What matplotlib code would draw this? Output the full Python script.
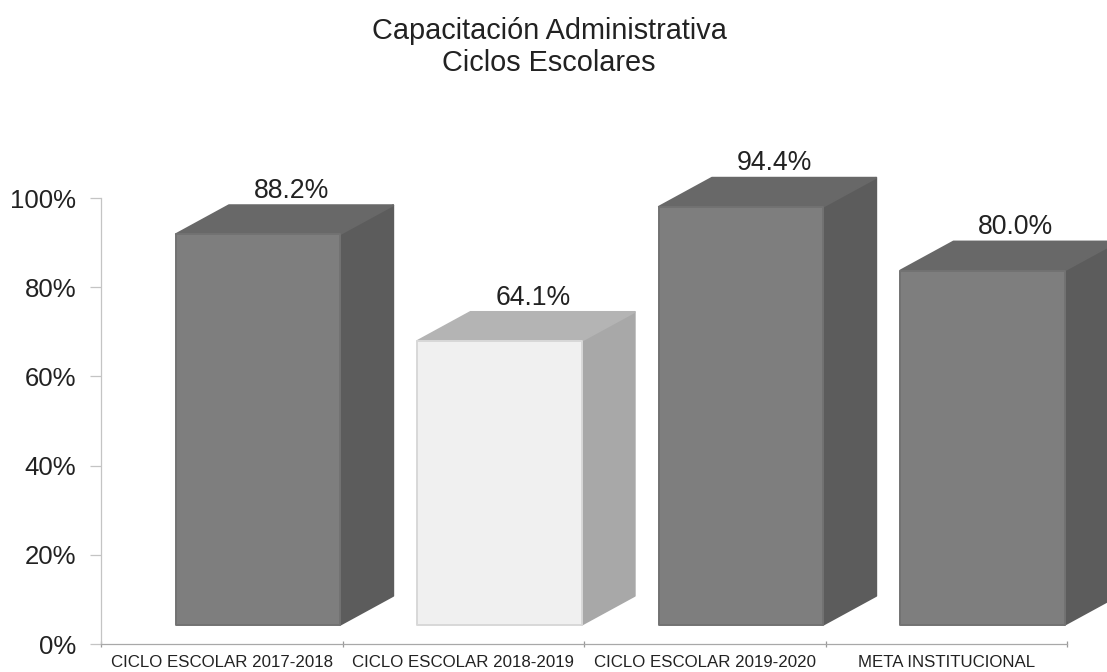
import matplotlib
matplotlib.use('Agg')
import matplotlib.pyplot as plt
from matplotlib.patches import Polygon

plt.rcParams['font.family'] = ['Liberation Sans', 'DejaVu Sans']

categories = ['CICLO ESCOLAR 2017-2018', 'CICLO ESCOLAR 2018-2019',
              'CICLO ESCOLAR 2019-2020', 'META INSTITUCIONAL']
values = [88.2, 64.1, 94.4, 80.0]
front_colors = ['#7e7e7e', '#f0f0f0', '#7e7e7e', '#7e7e7e']
top_colors = ['#686868', '#b4b4b4', '#686868', '#686868']
side_colors = ['#5c5c5c', '#a8a8a8', '#5c5c5c', '#5c5c5c']
edge_colors = ['#727272', '#d8d8d8', '#727272', '#727272']

# fake 3d box, everything in axis units
bar_left = 0.31
bar_width = 0.68
depth_x = 0.22
depth_y = 6.5
floor = 4.3
y_scale = 0.993

W, H = 1107, 672
fig = plt.figure(figsize=(W / 100, H / 100), dpi=100)
ax = fig.add_axes([101 / W, 1 - 644 / H, (1067 - 101) / W, (644 - 198) / H])
ax.set_xlim(0, 4)
ax.set_ylim(0, 100)


def draw_box(ax, x0, val, front, top, side, edge):
    x1 = x0 + bar_width
    y0 = floor
    y1 = floor + val * y_scale
    dx, dy = depth_x, depth_y
    faces = [
        ([(x1, y0), (x1 + dx, y0 + dy), (x1 + dx, y1 + dy), (x1, y1)], side, side),
        ([(x0, y1), (x1, y1), (x1 + dx, y1 + dy), (x0 + dx, y1 + dy)], top, top),
        ([(x0, y0), (x1, y0), (x1, y1), (x0, y1)], front, edge),
    ]
    for pts, col, ec in faces:
        ax.add_patch(Polygon(pts, closed=True, facecolor=col, edgecolor=ec,
                             lw=1.4, joinstyle='round', clip_on=False, zorder=3))


for i, val in enumerate(values):
    x0 = i + bar_left
    draw_box(ax, x0, val, front_colors[i], top_colors[i], side_colors[i], edge_colors[i])
    ax.annotate(f'{val:.1f}%', (x0 + (bar_width + depth_x) / 2, floor + val * y_scale + depth_y),
                xytext=(5, 1), textcoords='offset points', ha='center', va='bottom',
                fontsize=19.2, color='#222222', zorder=4, annotation_clip=False)

for s in ['top', 'right']:
    ax.spines[s].set_visible(False)
ax.spines['left'].set_color('#c4c4c4')
ax.spines['bottom'].set_color('#a8a8a8')
ax.spines['left'].set_linewidth(0.9)
ax.spines['bottom'].set_linewidth(0.9)

ax.set_yticks([0, 20, 40, 60, 80, 100])
ax.set_yticklabels(['0%', '20%', '40%', '60%', '80%', '100%'], fontsize=18.5, color='#222222')
ax.tick_params(axis='y', length=8, width=0.9, color='#c4c4c4', pad=10)

ax.set_xticks([0, 1, 2, 3, 4])
ax.set_xticklabels([])
ax.tick_params(axis='x', direction='inout', length=5, width=0.9, color='#999999')
for i, cat in enumerate(categories):
    ax.annotate(cat, (i + 0.5, 0), xytext=(0, -8), textcoords='offset points', ha='center', va='top',
                fontsize=12.2, color='#222222', annotation_clip=False)

fig.text(549 / W, 1 - 31 / H, 'Capacitación Administrativa', ha='center', va='center', fontsize=20.8, color='#222222')
fig.text(549 / W, 1 - 63 / H, 'Ciclos Escolares', ha='center', va='center', fontsize=20.8, color='#222222')

fig.savefig('out.png', dpi=100)
